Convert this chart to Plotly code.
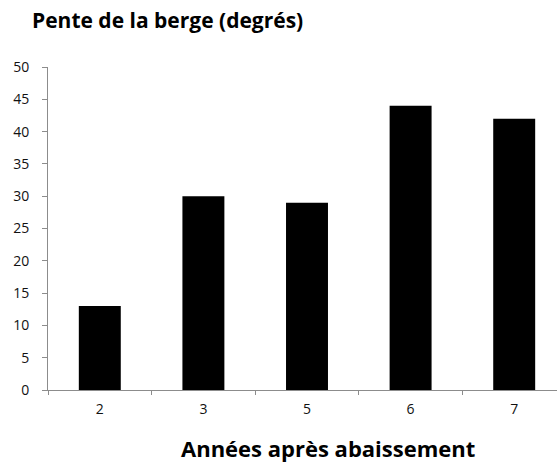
import plotly.graph_objects as go

categories = ["2", "3", "5", "6", "7"]
values = [13, 30, 29, 44, 42]
y_ticks = [0, 5, 10, 15, 20, 25, 30, 35, 40, 45, 50]
title_text = "Pente de la berge (degrés)"
x_title_text = "Années après abaissement"

W, H = 557, 468
L, R, T, B = 48, 0, 67, 78
cat_w = 103.6
plot_w = W - L - R
plot_h = H - T - B
x_max = -0.5 + plot_w / cat_w

fig = go.Figure()
fig.add_trace(go.Bar(
    x=categories, y=values,
    marker=dict(color="black", line=dict(width=0)),
    width=0.405,
))

axis_color = "#8c8c8c"
tick_font = dict(family="Open Sans, sans-serif", size=14, color="#111111")

fig.update_layout(
    width=W, height=H,
    margin=dict(l=L, r=R, t=T, b=B, pad=0),
    paper_bgcolor="white", plot_bgcolor="white",
    showlegend=False,
    xaxis=dict(
        type="category", range=[-0.5, x_max],
        showline=True, linecolor=axis_color, linewidth=1,
        ticks="outside", ticklen=4, tickcolor=axis_color, tickson="boundaries",
        showgrid=False, zeroline=False, mirror=False,
        tickfont=tick_font, ticklabelstandoff=6,
    ),
    yaxis=dict(
        range=[0, 50], tickvals=y_ticks,
        showline=True, linecolor=axis_color, linewidth=1,
        ticks="outside", ticklen=5, tickcolor=axis_color,
        showgrid=False, zeroline=False, mirror=False,
        tickfont=tick_font, ticklabelstandoff=10,
    ),
    annotations=[
        dict(text="<b>" + title_text + "</b>", xref="paper", yref="paper",
             x=-(L - 30) / plot_w, y=1 + (T - 20) / plot_h,
             xanchor="left", yanchor="middle", showarrow=False,
             font=dict(family="Open Sans, sans-serif", size=21, color="black")),
        dict(text="<b>" + x_title_text + "</b>", xref="paper", yref="paper",
             x=(328 - L) / plot_w, y=-(448 - (H - B)) / plot_h,
             xanchor="center", yanchor="middle", showarrow=False,
             font=dict(family="Open Sans, sans-serif", size=22, color="black")),
    ],
)

fig.write_html("out.html", config={"displayModeBar": False, "staticPlot": True},
               post_script="document.body.style.margin='0';document.body.style.overflow='hidden';")
